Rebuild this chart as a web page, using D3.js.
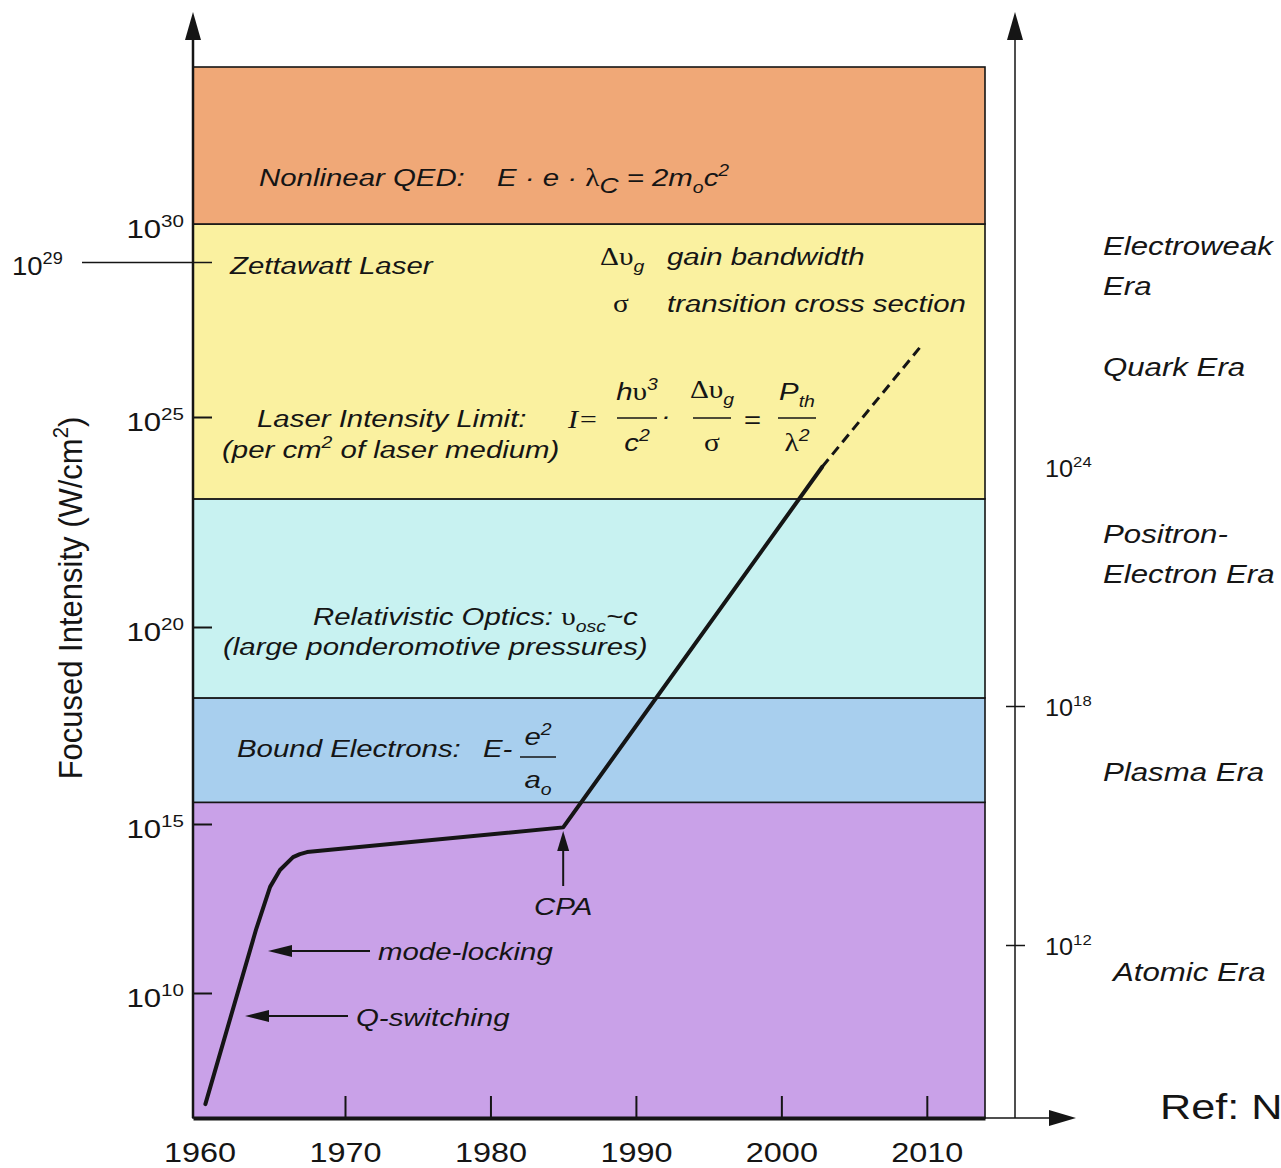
<!DOCTYPE html>
<html>
<head>
<meta charset="utf-8">
<script src="https://cdn.jsdelivr.net/npm/d3@7"></script>
<style>
  body { margin: 0; background: #fff; }
  svg { display: block; }
</style>
</head>
<body>
<div id="chart"></div>
<script>
// ---- data (x = year, y = log10 of W/cm^2) ----
var xTickYears = [1960, 1970, 1980, 1990, 2000, 2010];
var leftTickExp = [10, 15, 20, 25, 30];
var rightTickExp = [12, 18, 24];
var markExp = 29; // zettawatt marker

var bandNames = ["Atomic", "Bound Electrons", "Relativistic Optics", "Laser Intensity Limit", "Nonlinear QED"];
var bandLow = [6.4, 15.55, 18.2, 23.05, 30];
var bandHigh = [15.55, 18.2, 23.05, 30, 34.07];

var lineYears = [1960.4, 1963.9, 1964.85, 1965.53, 1966.43, 1966.9, 1967.39, 1985.0, 2002.8];
var lineExp = [6.8, 11.9, 13.14, 13.64, 14.02, 14.11, 14.17, 14.9, 23.81];
var dashYears = [2002.8, 2009.5];
var dashExp = [23.81, 26.79];

var eraLabels = [["Electroweak", "Era"], ["Quark Era"], ["Positron-", "Electron Era"], ["Plasma Era"], ["Atomic Era"]];

// ---- styles ----
var bandColors = ["#C9A1E8", "#A8CFEE", "#C8F2F1", "#FAF1A0", "#F0A877"];
var SANS = "'Liberation Sans', Arial, Helvetica, sans-serif";
var SERIF = "'Liberation Serif', 'Times New Roman', serif";
var INK = "#151515";
var SX = 1.2; // the scanned figure is stretched sideways

var W = 1281, H = 1168;
var svg = d3.select("#chart").append("svg")
  .attr("width", W)
  .attr("height", H)
  .attr("viewBox", "0 0 " + W + " " + H);

var x = d3.scaleLinear().domain([1959.55, 2014]).range([193, 985]);
// hand-drawn axis: decades are not evenly spaced, so pin each labelled decade
var y = d3.scaleLinear()
  .domain([6.4, 10, 15, 20, 25, 30, 34.07])
  .range([1118, 993, 824, 627, 417, 224, 67]);
var yR = d3.scaleLinear().domain([12, 24]).range([945, 467]);

function rich(px, py, size, parts, o) {
  o = o || {};
  var tf = "translate(" + px + "," + py + ") scale(" + (o.sx || SX) + ",1)";
  if (o.rotate) tf += " rotate(" + o.rotate + ")";
  var t = svg.append("text")
    .attr("transform", tf)
    .attr("font-family", o.serif ? SERIF : SANS)
    .attr("font-size", size)
    .attr("font-style", o.italic === false ? "normal" : "italic")
    .attr("text-anchor", o.anchor || "start")
    .attr("fill", INK);
  var shift = 0;
  parts.forEach(function (p) {
    if (typeof p === "string") p = { t: p };
    var s = p.sup ? -size * 0.42 : p.sub ? size * 0.28 : 0;
    var ts = t.append("tspan").text(p.t);
    if (s !== shift) ts.attr("dy", s - shift);
    shift = s;
    if (p.sup || p.sub) ts.attr("font-size", size * (p.scale || 0.66));
    if (p.serif) ts.attr("font-family", SERIF);
    if (p.upright) ts.attr("font-style", "normal");
    if (p.dx) ts.attr("dx", p.dx);
  });
  return t;
}

function hline(x1, x2, yy, w) {
  svg.append("line").attr("x1", x1).attr("x2", x2).attr("y1", yy).attr("y2", yy)
    .attr("stroke", INK).attr("stroke-width", w || 2);
}

function frac(cx, num, den, yNum, yBar, yDen, half, size) {
  rich(cx, yNum, size, num, { anchor: "middle" });
  hline(cx - half, cx + half, yBar, 1.6);
  rich(cx, yDen, size, den, { anchor: "middle" });
}

function arrowHead(tx, ty, dir, len, half) {
  var pts;
  if (dir === "up") pts = [[tx, ty], [tx - half, ty + len], [tx + half, ty + len]];
  else if (dir === "left") pts = [[tx, ty], [tx + len, ty - half], [tx + len, ty + half]];
  else pts = [[tx, ty], [tx - len, ty - half], [tx - len, ty + half]];
  svg.append("polygon").attr("points", pts.map(function (p) { return p.join(","); }).join(" "))
    .attr("fill", INK);
}

// ---- bands ----
svg.append("g").selectAll("rect")
  .data(bandNames)
  .enter()
  .append("rect")
  .attr("x", x.range()[0])
  .attr("width", x.range()[1] - x.range()[0])
  .attr("y", function (d, i) { return y(bandHigh[i]); })
  .attr("height", function (d, i) { return y(bandLow[i]) - y(bandHigh[i]); })
  .attr("fill", function (d, i) { return bandColors[i]; })
  .attr("stroke", INK)
  .attr("stroke-width", 1.6);

// ---- intensity curve ----
var line = d3.line()
  .x(function (d) { return x(d[0]); })
  .y(function (d) { return y(d[1]); });

svg.append("path")
  .datum(lineYears.map(function (v, i) { return [v, lineExp[i]]; }))
  .attr("d", line)
  .attr("fill", "none")
  .attr("stroke", INK)
  .attr("stroke-width", 4)
  .attr("stroke-linejoin", "round")
  .attr("stroke-linecap", "round");

svg.append("path")
  .datum(dashYears.map(function (v, i) { return [v, dashExp[i]]; }))
  .attr("d", line)
  .attr("fill", "none")
  .attr("stroke", INK)
  .attr("stroke-width", 3)
  .attr("stroke-dasharray", "10,6");

// ---- x axis ----
var xAxis = svg.append("g")
  .attr("transform", "translate(0," + y(6.4) + ")")
  .call(d3.axisBottom(x).tickValues(xTickYears).tickSizeInner(-22).tickSizeOuter(0)
    .tickPadding(25).tickFormat(d3.format("d")));
xAxis.select(".domain").attr("stroke", INK).attr("stroke-width", 4);
xAxis.selectAll(".tick line").attr("stroke", INK).attr("stroke-width", 2)
  .filter(function (d) { return d === 1960; }).remove();
xAxis.selectAll(".tick text")
  .attr("font-family", SANS).attr("font-size", 27).attr("fill", INK)
  .attr("transform", "scale(" + SX + ",1)");
hline(985, 1050, y(6.4), 1.5);
arrowHead(1076, y(6.4), "right", 27, 8);

// ---- left axis ----
var yAxis = svg.append("g")
  .attr("transform", "translate(" + x.range()[0] + ",0)")
  .call(d3.axisLeft(y).tickValues(leftTickExp.slice(0, 4)).tickSizeInner(-19).tickSizeOuter(0).tickFormat(""));
yAxis.select(".domain").remove();
yAxis.selectAll(".tick line").attr("stroke", INK).attr("stroke-width", 2);
svg.append("line").attr("x1", 193).attr("x2", 193).attr("y1", y(6.4)).attr("y2", 36)
  .attr("stroke", INK).attr("stroke-width", 2.5);
arrowHead(193, 12, "up", 28, 8);

leftTickExp.forEach(function (v) {
  rich(184, y(v) + 14, 26, ["10", { t: String(v), sup: true }], { italic: false, anchor: "end" });
});

// 10^29 marker
hline(82, 212, y(markExp), 1.5);
rich(12, y(markExp) + 12, 25, ["10", { t: String(markExp), sup: true }], { italic: false, sx: 1.1 });

rich(82, 598, 31, ["Focused Intensity (W/cm", { t: "2", sup: true }, ")"],
  { italic: false, anchor: "middle", rotate: -90, sx: 1.1 });

// ---- right axis ----
svg.append("line").attr("x1", 1015).attr("x2", 1015).attr("y1", y(6.4)).attr("y2", 36)
  .attr("stroke", INK).attr("stroke-width", 1.5);
arrowHead(1015, 12, "up", 28, 8);
var rAxis = svg.append("g")
  .attr("transform", "translate(1015,0)")
  .call(d3.axisRight(yR).tickValues(rightTickExp.slice(0, 2)).tickSizeInner(10).tickSizeOuter(0).tickFormat(""));
rAxis.select(".domain").remove();
rAxis.selectAll(".tick line").attr("stroke", INK).attr("stroke-width", 1.5).attr("x1", -9);
rightTickExp.forEach(function (v) {
  rich(1045, yR(v) + 10, 23, ["10", { t: String(v), sup: true }], { italic: false, sx: 1.1 });
});

// ---- era labels ----
var eraX = [1103, 1103, 1103, 1103, 1113];
var eraY = [255, 376, 543, 781, 981];
eraLabels.forEach(function (lines, i) {
  lines.forEach(function (s, j) {
    rich(eraX[i], eraY[i] + j * 40, 26, [s]);
  });
});

// ---- band annotations ----
var FS = 24.5;
rich(259, 186, FS, ["Nonlinear QED:"]);
rich(497, 186, FS, ["E \u00B7 e \u00B7 ", { t: "\u03BB", serif: true, upright: true },
  { t: "C", sub: true, scale: 0.9 }, " = 2m", { t: "o", sub: true }, "c", { t: "2", sup: true }]);

rich(230, 274, FS, ["Zettawatt Laser"]);
rich(600, 265, FS, [{ t: "\u0394\u03C5", serif: true, upright: true }, { t: "g", sub: true }]);
rich(667, 265, FS, ["gain bandwidth"]);
rich(613, 312, FS, [{ t: "\u03C3", serif: true, upright: true }]);
rich(667, 312, FS, ["transition cross section"]);

rich(257, 427, FS, ["Laser Intensity Limit:"]);
rich(222, 458, FS, ["(per cm", { t: "2", sup: true }, " of laser medium)"]);
rich(568, 428, 25, ["I="], { serif: true });
frac(637, ["h", { t: "\u03C5", serif: true, upright: true }, { t: "3", sup: true }],
  ["c", { t: "2", sup: true }], 400, 418, 451, 20, FS);
rich(666, 424, FS, ["\u00B7"], { anchor: "middle" });
frac(712, [{ t: "\u0394\u03C5", serif: true, upright: true }, { t: "g", sub: true }],
  [{ t: "\u03C3", serif: true, upright: true }], 398, 418, 451, 19, FS);
rich(752, 428, FS, ["="], { anchor: "middle" });
frac(797, ["P", { t: "th", sub: true }],
  [{ t: "\u03BB", serif: true, upright: true }, { t: "2", sup: true }], 400, 418, 451, 19, FS);

rich(313, 625, FS, ["Relativistic Optics: ", { t: "\u03C5", serif: true, upright: true },
  { t: "osc", sub: true }, "~c"]);
rich(223, 655, FS, ["(large ponderomotive pressures)"]);

rich(237, 757, FS, ["Bound Electrons:"]);
rich(483, 757, FS, ["E-"]);
frac(538, ["e", { t: "2", sup: true }], ["a", { t: "o", sub: true }], 745, 757, 788, 18, FS);

// ---- event annotations ----
var cpaX = x(1985);
svg.append("line").attr("x1", cpaX).attr("x2", cpaX).attr("y1", 886).attr("y2", 848)
  .attr("stroke", INK).attr("stroke-width", 2);
arrowHead(cpaX, 831, "up", 20, 6);
rich(cpaX, 915, FS, ["CPA"], { anchor: "middle" });

hline(290, 370, 951, 2);
arrowHead(268, 951, "left", 24, 6);
rich(378, 960, FS, ["mode-locking"]);

hline(268, 348, 1016, 2);
arrowHead(245, 1016, "left", 24, 6);
rich(356, 1026, FS, ["Q-switching"]);

rich(1160, 1119, 36, ["Ref: N"], { italic: false, sx: 1.2 });
</script>
</body>
</html>
